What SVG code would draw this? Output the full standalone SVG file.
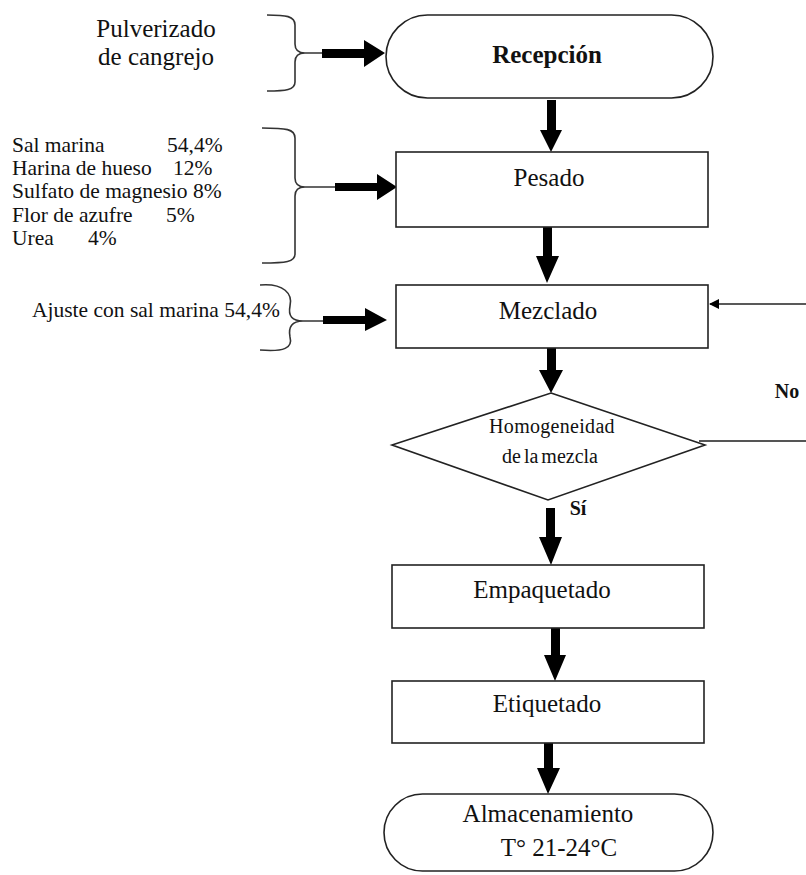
<svg xmlns="http://www.w3.org/2000/svg" width="806" height="875" viewBox="0 0 806 875">
<style>
  .box { fill: #fff; stroke: #222; stroke-width: 1.6; }
  .t { font-family: "Liberation Serif", "Times New Roman", serif; font-size: 25px; fill: #111; text-anchor: middle; }
  .tl { font-family: "Liberation Serif", "Times New Roman", serif; font-size: 21.5px; fill: #111; }
  .b { font-weight: bold; }
  .brace { fill: none; stroke: #333; stroke-width: 1.6; }
  .blk { fill: #000; stroke: none; }
  .thin { fill: none; stroke: #222; stroke-width: 1.5; }
  .loop { fill: none; stroke: #555; stroke-width: 2; }
</style>
<defs>
  <marker id="ah" markerWidth="10" markerHeight="10" refX="9" refY="5" orient="auto" markerUnits="userSpaceOnUse">
    <path d="M0,0 L10,5 L0,10 Z" fill="#000"/>
  </marker>
</defs>

<g id="connectors">
  <!-- input braces -->
  <path class="brace" d="M267,15 C286,15 295,16 295,25 L295,44 C295,50 298,53 305,53 L322,53 M305,53 C298,53 295,56 295,62 L295,82 C295,90 286,91 267,91"/>
  <path class="brace" d="M262,128 C286,128 295,129 295,138 L295,178 C295,184 298,187 305,187 L335,187 M305,187 C298,187 295,190 295,196 L295,254 C295,262 286,263 262,263"/>
  <path class="brace" d="M260,285 C284,283 293,294 290,306 C288,316 292,321 303,321 L323,321 M303,321 C292,321 288,327 290,337 C293,348 284,352 260,350"/>
  <!-- horizontal block arrows -->
  <polygon class="blk" points="322,49 364,49 364,40 385,53 364,67 364,58 322,58"/>
  <polygon class="blk" points="335,183 377,183 377,174 397,187 377,200 377,191 335,191"/>
  <polygon class="blk" points="323,316 365,316 365,308 387,320 365,331 365,324 323,324"/>
  <!-- vertical block arrows -->
  <polygon class="blk" points="547,100 556,100 556,130 562,130 551,152 540,130 547,130"/>
  <polygon class="blk" points="543,227 552,227 552,256 559,256 547,283 536,256 543,256"/>
  <polygon class="blk" points="547,342 556,342 556,370 563,370 551,393 539,370 547,370"/>
  <polygon class="blk" points="546,508 555,508 555,537 562,537 551,565 539,537 546,537"/>
  <polygon class="blk" points="551,628 560,628 560,655 566,655 555,681 544,655 551,655"/>
  <polygon class="blk" points="544,743 553,743 553,768 560,768 548,794 537,768 544,768"/>
  <!-- loop back No -->
  <path class="loop" d="M699,441 L806,441"/>
  <path class="thin" d="M806,304 L710,304" marker-end="url(#ah)"/>
</g>

<g id="in-pulverizado">
  <text class="t" x="156" y="37">Pulverizado</text>
  <text class="t" x="156" y="65">de cangrejo</text>
</g>

<g id="in-ingredientes">
  <text class="tl" y="152"><tspan x="12">Sal marina</tspan><tspan x="167">54,4%</tspan></text>
  <text class="tl" y="175"><tspan x="12">Harina de hueso</tspan><tspan x="173">12%</tspan></text>
  <text class="tl" x="12" y="198">Sulfato de magnesio 8%</text>
  <text class="tl" y="222"><tspan x="12">Flor de azufre</tspan><tspan x="166">5%</tspan></text>
  <text class="tl" y="245"><tspan x="12">Urea</tspan><tspan x="88">4%</tspan></text>
</g>

<g id="in-ajuste">
  <text class="tl" x="32" y="317">Ajuste con sal marina 54,4%</text>
</g>

<g id="recepcion">
  <rect class="box" x="386" y="15" width="327" height="83" rx="41.5" ry="41.5"/>
  <text class="t b" x="547" y="63">Recepción</text>
</g>

<g id="pesado">
  <rect class="box" x="396" y="152" width="312" height="75"/>
  <text class="t" x="549" y="186">Pesado</text>
</g>

<g id="mezclado">
  <rect class="box" x="396" y="285" width="312" height="63"/>
  <text class="t" x="548" y="319">Mezclado</text>
</g>

<g id="homogeneidad">
  <polygon class="box" points="551,393 705,445 548,500 392,445"/>
  <text class="t" x="552" y="433" style="font-size:20px" letter-spacing="0.3">Homogeneidad</text>
  <text class="t" x="550" y="463" style="font-size:20px" word-spacing="-2">de la mezcla</text>
</g>

<g id="labels">
  <text class="t b" x="787" y="398" style="font-size:20px">No</text>
  <text class="t b" x="578" y="515" style="font-size:20px">Sí</text>
</g>

<g id="empaquetado">
  <rect class="box" x="392" y="565" width="312" height="63"/>
  <text class="t" x="542" y="598">Empaquetado</text>
</g>

<g id="etiquetado">
  <rect class="box" x="392" y="681" width="312" height="62"/>
  <text class="t" x="547" y="712">Etiquetado</text>
</g>

<g id="almacenamiento">
  <rect class="box" x="384" y="794" width="329" height="77" rx="38.5" ry="38.5"/>
  <text class="t" x="548" y="822">Almacenamiento</text>
  <text class="t" x="559" y="856">T° 21-24°C</text>
</g>
</svg>
